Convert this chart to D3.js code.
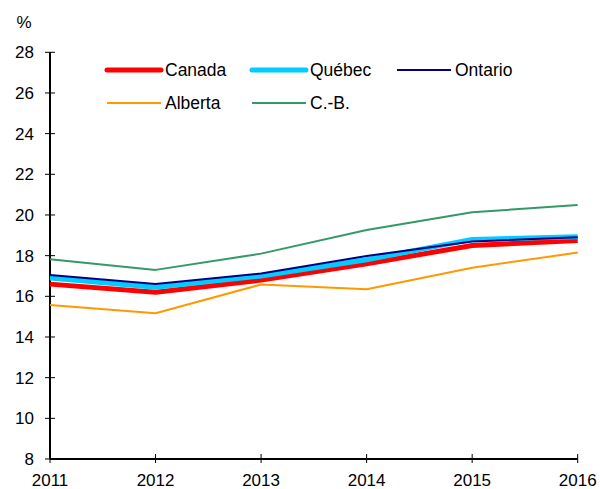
<!DOCTYPE html>
<html>
<head>
<meta charset="utf-8">
<script src="https://cdn.jsdelivr.net/npm/d3@7"></script>
<style>
  body { margin: 0; background: #fff; }
  text { font-family: "Liberation Sans", Arial, sans-serif; }
</style>
</head>
<body>
<svg id="chart" width="600" height="489"></svg>
<script>

// data
let years = [2011, 2012, 2013, 2014, 2015, 2016];
let yTicks = [8, 10, 12, 14, 16, 18, 20, 22, 24, 26, 28];

let canada  = [16.6, 16.2, 16.8, 17.6, 18.5, 18.75];
let quebec  = [16.9, 16.45, 17.0, 17.8, 18.8, 18.93];
let ontario = [17.05, 16.6, 17.12, 17.98, 18.7, 18.9];
let alberta = [15.57, 15.17, 16.58, 16.35, 17.41, 18.15];
let cb      = [17.82, 17.3, 18.1, 19.26, 20.13, 20.49];

let seriesNames  = ["Canada", "Québec", "Ontario", "Alberta", "C.-B."];
let seriesColors = ["#ff0000", "#00ccff", "#000080", "#ff9900", "#339966"];
let seriesWidths = [5, 5, 2, 2, 2];

let series = [canada, quebec, ontario, alberta, cb].map( function(v, i){
    return { name: seriesNames[i], color: seriesColors[i], width: seriesWidths[i],
             values: v.map( (d, j) => ({ year: years[j], value: d }) ) };
});

let svg = d3.select("#chart");

let x = d3.scaleLinear().domain([2011, 2016]).range([50, 577.7]);
let y = d3.scaleLinear().domain([8, 28]).range([459, 52.3]);

// y axis
let yAxis = svg.append("g");
yAxis.append("line")
    .attr("x1", 50).attr("x2", 50)
    .attr("y1", y(28)).attr("y2", y(8))
    .attr("stroke", "#000").attr("stroke-width", 2);
yAxis.selectAll("line.tick")
    .data(yTicks)
    .enter().append("line")
        .attr("class", "tick")
        .attr("x1", 45).attr("x2", 55)
        .attr("y1", d => y(d)).attr("y2", d => y(d))
        .attr("stroke", "#000").attr("stroke-width", 1);
yAxis.selectAll("text")
    .data(yTicks)
    .enter().append("text")
        .attr("x", 34)
        .attr("y", d => y(d))
        .attr("dy", ".35em")
        .attr("text-anchor", "end")
        .style("font-size", "17px")
        .text(d => d);

svg.append("text")
    .attr("x", 24).attr("y", 28)
    .attr("text-anchor", "middle")
    .style("font-size", "17px")
    .text("%");

// x axis
let xAxis = svg.append("g");
xAxis.append("line")
    .attr("x1", x(2011)).attr("x2", x(2016))
    .attr("y1", y(8)).attr("y2", y(8))
    .attr("stroke", "#000").attr("stroke-width", 2);
xAxis.selectAll("line.tick")
    .data(years)
    .enter().append("line")
        .attr("class", "tick")
        .attr("x1", d => x(d)).attr("x2", d => x(d))
        .attr("y1", y(8) - 5).attr("y2", y(8) + 4)
        .attr("stroke", "#000").attr("stroke-width", 1);
xAxis.selectAll("text")
    .data(years)
    .enter().append("text")
        .attr("x", d => x(d))
        .attr("y", 486)
        .attr("text-anchor", "middle")
        .style("font-size", "17px")
        .text(d => d);

// lines
let lineGen = d3.line()
    .x(d => x(d.year))
    .y(d => y(d.value));

svg.append("g").selectAll("path")
    .data(series)
    .enter().append("path")
        .attr("d", d => lineGen(d.values))
        .attr("fill", "none")
        .attr("stroke", d => d.color)
        .attr("stroke-width", d => d.width)
        .attr("stroke-linejoin", "round");

// legend: two rows, three columns
let legendX = [107, 252, 397];
let legendY = [70, 103];
let legend = svg.append("g");
series.forEach( function(s, i){
    let lx = legendX[i % 3];
    let ly = legendY[Math.floor(i / 3)];
    legend.append("line")
        .attr("x1", lx).attr("x2", lx + 54)
        .attr("y1", ly).attr("y2", ly)
        .attr("stroke", s.color)
        .attr("stroke-width", s.width)
        .attr("stroke-linecap", s.width > 2 ? "round" : "butt");
    legend.append("text")
        .attr("x", lx + 58)
        .attr("y", ly)
        .attr("dy", ".35em")
        .style("font-size", "17.5px")
        .text(s.name);
});

</script>
</body>
</html>
